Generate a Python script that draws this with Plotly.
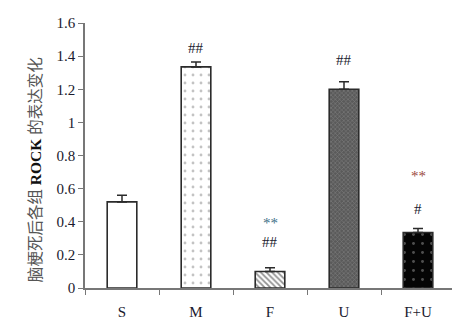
import plotly.graph_objects as go

categories = ["S", "M", "F", "U", "F+U"]
values = [0.52, 1.335, 0.10, 1.20, 0.335]
errors = [0.04, 0.03, 0.022, 0.045, 0.025]
hash_marks = ["", "##", "##", "##", "#"]
star_marks = ["", "", "**", "", "**"]
y_ticks = [0, 0.2, 0.4, 0.6, 0.8, 1.0, 1.2, 1.4, 1.6]
y_ticktext = ["0", "0.2", "0.4", "0.6", "0.8", "1", "1.2", "1.4", "1.6"]

patterns = [
    dict(shape="", bgcolor="white", fgcolor="white"),
    dict(shape=".", bgcolor="white", fgcolor="#888", size=8, solidity=0.1),
    dict(shape="\\", bgcolor="white", fgcolor="#222", size=4, solidity=0.45),
    dict(shape="x", bgcolor="#5a5a5a", fgcolor="#a0a0a0", size=3, solidity=0.35),
    dict(shape=".", bgcolor="#050505", fgcolor="#9a9a9a", size=9, solidity=0.08),
]

fig = go.Figure()
for i, c in enumerate(categories):
    fig.add_trace(go.Bar(
        x=[c], y=[values[i]], width=0.4,
        marker=dict(color=patterns[i]["bgcolor"], pattern=patterns[i],
                    line=dict(color="#2b2b2b", width=1.6)),
        error_y=dict(type="data", symmetric=False, array=[errors[i]], arrayminus=[0],
                     color="#2b2b2b", thickness=1.5, width=5),
        showlegend=False,
    ))

serif = "Liberation Serif, Times New Roman, serif"
hash_shift = [0, 4, 16, 12, 9]
star_shift = [0, 0, 35, 0, 42]
star_colors = ["#000", "#000", "#3d6f86", "#000", "#9a4a40"]
for i, c in enumerate(categories):
    top = values[i] + errors[i]
    if hash_marks[i]:
        fig.add_annotation(x=c, y=top, text=hash_marks[i], showarrow=False,
                           yanchor="bottom", yshift=hash_shift[i],
                           font=dict(family=serif, size=15, color="#1a1a2e"))
    if star_marks[i]:
        fig.add_annotation(x=c, y=top, text=star_marks[i], showarrow=False,
                           yanchor="bottom", yshift=star_shift[i],
                           font=dict(family=serif, size=15, color=star_colors[i]))

fig.add_annotation(
    xref="paper", yref="paper", x=-0.135, y=0.445, xanchor="center", yanchor="middle",
    textangle=-90, showarrow=False,
    text="脑梗死后各组 <span style='color:#111'><b>ROCK</b></span> 的表达变化",
    font=dict(family="Liberation Serif, Noto Sans CJK SC", size=15.5, color="#555"),
)

fig.update_layout(
    width=452, height=322,
    margin=dict(l=77, r=5, t=15, b=42),
    plot_bgcolor="white", paper_bgcolor="white",
    xaxis=dict(type="category", range=[-0.5, 4.5], showline=True, linecolor="#777",
               linewidth=1.5, ticks="outside", tickson="boundaries", ticklen=5,
               tickcolor="#777", showgrid=False, zeroline=False, ticklabelstandoff=9,
               tickfont=dict(family=serif, size=15, color="#1a1a2e")),
    yaxis=dict(range=[0, 1.6], showline=True, linecolor="#777", linewidth=1.5,
               ticks="outside", ticklen=5, tickcolor="#777", tickvals=y_ticks,
               ticktext=y_ticktext, showgrid=False, zeroline=False,
               tickfont=dict(family=serif, size=15, color="#1a1a2e")),
)

fig.write_html("out.html")
